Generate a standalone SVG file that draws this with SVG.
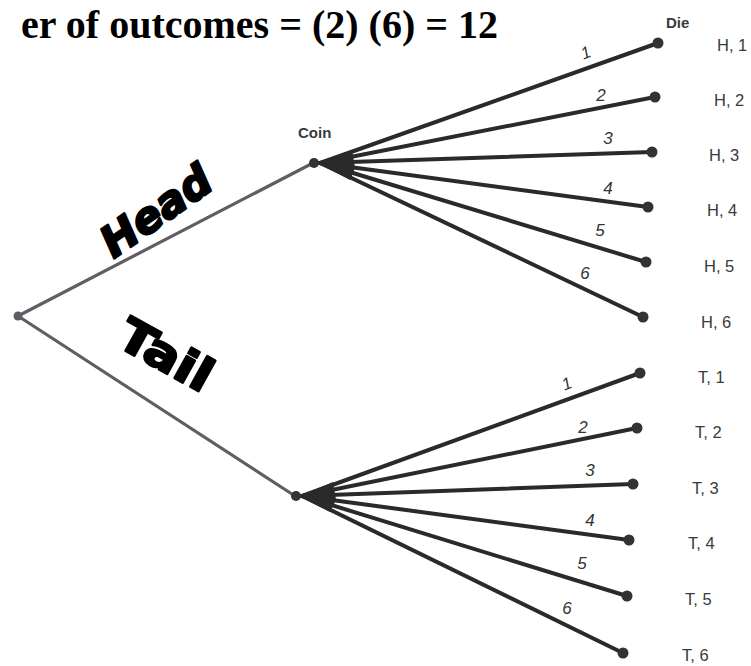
<svg xmlns="http://www.w3.org/2000/svg" width="751" height="666" viewBox="0 0 751 666">
<style>
.main{stroke:#5e5e64;stroke-width:3.2;stroke-linecap:round;fill:none}
.br{stroke:#2a2a2a;stroke-width:4;stroke-linecap:round;fill:none}
.dot{fill:#333}
.gdot{fill:#5e5e64}
.num{font-family:"Liberation Sans",Arial,sans-serif;font-size:17px;font-style:italic;fill:#333}
.out{font-family:"Liberation Sans",Arial,sans-serif;font-size:16.5px;fill:#3a3a3a}
.hdr{font-family:"Liberation Sans",Arial,sans-serif;font-size:15px;font-weight:bold;fill:#3a3a3a}
.big{font-family:"DejaVu Sans",sans-serif;font-weight:bold;fill:#000;stroke:#000;stroke-width:2.4;stroke-linejoin:round}
.title{font-family:"Liberation Serif","Times New Roman",serif;font-size:40px;font-weight:bold;fill:#000}
</style>
<text class="title" x="498" y="38" text-anchor="end">er of outcomes = (2) (6) = 12</text>
<g id="connectors">
<line class="main" x1="18" y1="316" x2="313" y2="163"/>
<line class="main" x1="18" y1="316" x2="295" y2="496"/>
<line class="br" x1="320" y1="163" x2="658" y2="43"/>
<line class="br" x1="320" y1="163" x2="655" y2="97"/>
<line class="br" x1="320" y1="163" x2="652" y2="152"/>
<line class="br" x1="320" y1="163" x2="648" y2="207"/>
<line class="br" x1="320" y1="163" x2="646" y2="262"/>
<line class="br" x1="320" y1="163" x2="643" y2="317"/>
<polygon fill="#2a2a2a" points="318,163 352,150 355,168 350,180"/>
<line class="br" x1="302" y1="496" x2="640" y2="373"/>
<line class="br" x1="302" y1="496" x2="637" y2="428"/>
<line class="br" x1="302" y1="496" x2="633" y2="484"/>
<line class="br" x1="302" y1="496" x2="629" y2="540"/>
<line class="br" x1="302" y1="496" x2="627" y2="596"/>
<line class="br" x1="302" y1="496" x2="623" y2="653"/>
<polygon fill="#2a2a2a" points="300,496 333,482 336,500 330,512"/>
</g>
<g id="root"><circle class="gdot" cx="18" cy="316" r="4.5"/></g>
<g id="coin-head">
<circle class="dot" cx="314" cy="163" r="5"/>
<text class="hdr" x="298" y="138">Coin</text>
<text class="big" font-size="43" font-style="italic" text-anchor="middle" transform="translate(156,211) rotate(-35) translate(0,15)">Head</text>
</g>
<g id="coin-tail">
<circle class="dot" cx="296" cy="496" r="5"/>
<text class="big" font-size="46" text-anchor="middle" transform="translate(166,355) rotate(29) scale(1.14,1) translate(0,16)">Tail</text>
</g>
<g id="die-header"><text class="hdr" x="666" y="28">Die</text></g>
<g id="head-outcomes">
<circle class="dot" cx="658" cy="43" r="5.5"/>
<circle class="dot" cx="655" cy="97" r="5.5"/>
<circle class="dot" cx="652" cy="152" r="5.5"/>
<circle class="dot" cx="648" cy="207" r="5.5"/>
<circle class="dot" cx="646" cy="262" r="5.5"/>
<circle class="dot" cx="643" cy="317" r="5.5"/>
<text class="num" transform="translate(588,58) rotate(-22)" text-anchor="middle">1</text>
<text class="num" x="601" y="101" text-anchor="middle">2</text>
<text class="num" x="608" y="144" text-anchor="middle">3</text>
<text class="num" x="608" y="194" text-anchor="middle">4</text>
<text class="num" x="600" y="236" text-anchor="middle">5</text>
<text class="num" x="585" y="279" text-anchor="middle">6</text>
<text class="out" x="717" y="51">H, 1</text>
<text class="out" x="714" y="106">H, 2</text>
<text class="out" x="709" y="161">H, 3</text>
<text class="out" x="707" y="216">H, 4</text>
<text class="out" x="704" y="272">H, 5</text>
<text class="out" x="701" y="328">H, 6</text>
</g>
<g id="tail-outcomes">
<circle class="dot" cx="640" cy="373" r="5.5"/>
<circle class="dot" cx="637" cy="428" r="5.5"/>
<circle class="dot" cx="633" cy="484" r="5.5"/>
<circle class="dot" cx="629" cy="540" r="5.5"/>
<circle class="dot" cx="627" cy="596" r="5.5"/>
<circle class="dot" cx="623" cy="653" r="5.5"/>
<text class="num" transform="translate(569,389) rotate(-22)" text-anchor="middle">1</text>
<text class="num" x="583" y="433" text-anchor="middle">2</text>
<text class="num" x="590" y="476" text-anchor="middle">3</text>
<text class="num" x="590" y="526" text-anchor="middle">4</text>
<text class="num" x="582" y="569" text-anchor="middle">5</text>
<text class="num" x="567" y="614" text-anchor="middle">6</text>
<text class="out" x="698" y="383">T, 1</text>
<text class="out" x="695" y="438">T, 2</text>
<text class="out" x="692" y="494">T, 3</text>
<text class="out" x="688" y="549">T, 4</text>
<text class="out" x="685" y="605">T, 5</text>
<text class="out" x="682" y="661">T, 6</text>
</g>
</svg>
